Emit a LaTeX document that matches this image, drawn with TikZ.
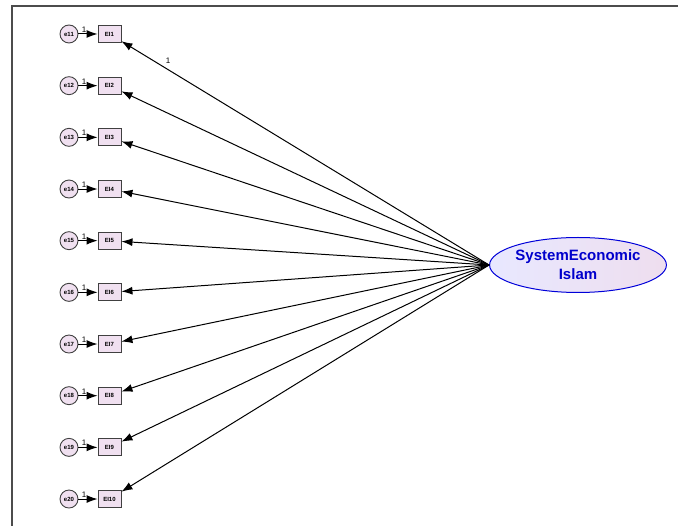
\documentclass[tikz,border=0pt]{standalone}
\usepackage{fontspec}
\setmainfont{Liberation Sans}
\usetikzlibrary{arrows.meta, shapes.geometric}

\begin{document}
\begin{tikzpicture}[x=1pt, y=-1pt,
    obs/.style={draw=black!75, line width=0.9pt, fill=violet!12, minimum width=23pt,
      minimum height=17pt, inner sep=0pt, font=\bfseries\fontsize{6}{7}\selectfont},
    err/.style={circle, draw=black!75, line width=0.9pt, fill=violet!12, minimum size=18pt,
      inner sep=0pt, font=\bfseries\fontsize{6}{7}\selectfont},
    latent/.style={ellipse, draw=blue!85!black, line width=1pt, left color=blue!9,
      right color=violet!13, minimum width=176pt, minimum height=55pt, inner sep=0pt,
      align=center, text=blue!80!black, font=\bfseries\fontsize{15}{19}\selectfont},
    loadarrow/.style={-{Latex[length=11pt,width=8pt]}, line width=1pt},
    errarrow/.style={-{Latex[length=11pt,width=8pt]}, line width=1pt},
    weight/.style={font=\fontsize{8}{9}\selectfont, inner sep=1pt}]
    \useasboundingbox (0,0) rectangle (678,526);

    % Frame
    \draw[line width=1.5pt, black!70] (12,526) -- (12,6) -- (678,6);

    % Latent variable
    \node[latent] (sei) at (578,265) {SystemEconomic\\Islam};

    % Indicators with their errors
    \foreach \i in {1,...,10} {
        \pgfmathtruncatemacro{\e}{\i+10}
        \node[obs] (EI\i) at (109.5,{34+(\i-1)*51.67}) {EI\i};
        \node[err] (e\e) at (69,{34+(\i-1)*51.67}) {e\e};
        \draw[errarrow] (e\e) -- node[weight, above, pos=0.3] {1} (EI\i);
        \draw[loadarrow] (sei.west) -- (EI\i);
    }

    % Fixed loading
    \path (sei.west) -- node[weight, pos=0.873, above=5pt] (w1) {1} (EI1);
\end{tikzpicture}
\end{document}
